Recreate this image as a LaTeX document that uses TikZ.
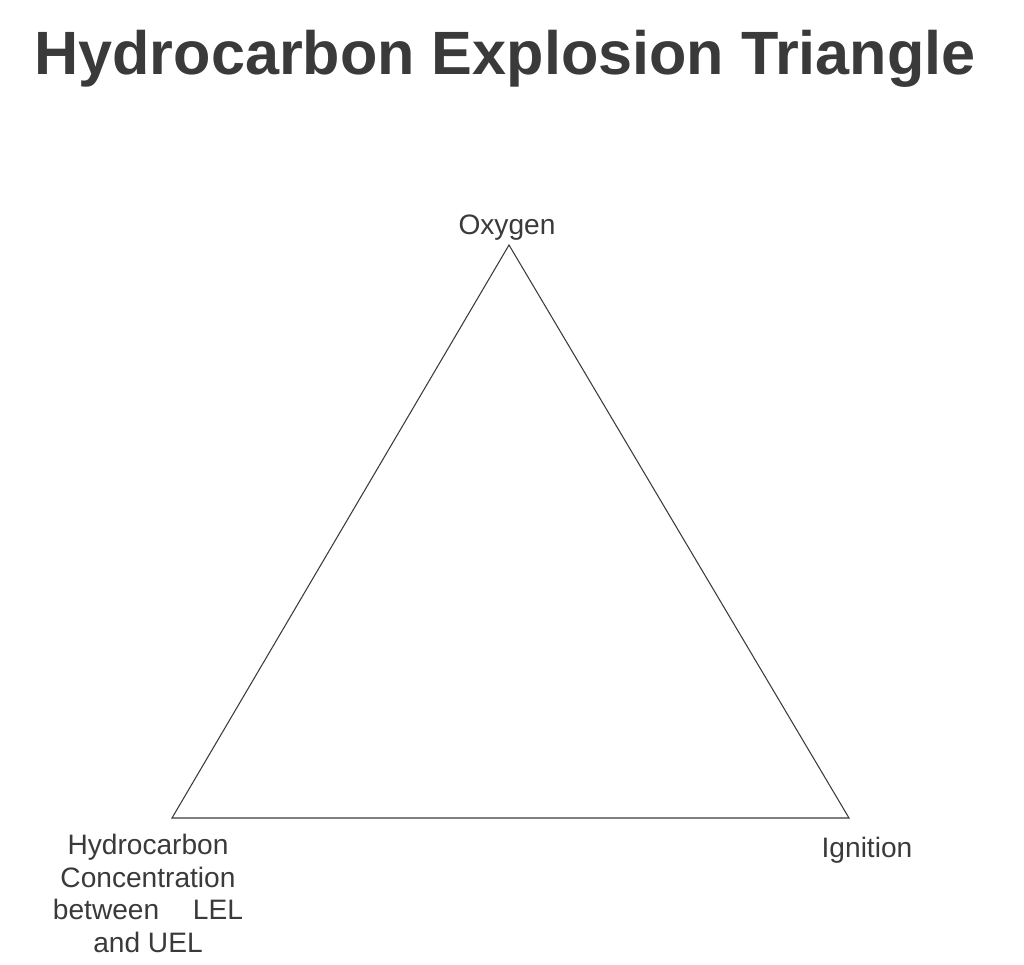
\documentclass[tikz,border=0pt]{standalone}
\usepackage{fontspec}
\setmainfont{Liberation Sans}
\usetikzlibrary{calc}
\definecolor{inkgray}{HTML}{3A3A3A}

\begin{document}
\begin{tikzpicture}[corner/.style={font=\fontsize{16}{18.5}\selectfont,text=inkgray,inner sep=0pt},
	side/.style={draw=inkgray,line width=0.6pt}]
	\useasboundingbox (0,0) rectangle (20.48,19.3);
	\draw (10.1,17.8) node (title) [anchor=base,text=inkgray,inner sep=0pt,font=\fontsize{34.8}{40}\bfseries] {Hydrocarbon Explosion Triangle};
	\draw (10.18,14.4) coordinate (O);
	\draw (3.44,2.94) coordinate (H);
	\draw (16.98,2.94) coordinate (I);
	\node (oxy) [corner,anchor=base] at (10.14,14.6) {Oxygen};
	\node (ign) [corner,anchor=base] at (17.34,2.14) {Ignition};
	\node (hc) [corner,anchor=north,align=center] at (2.96,2.62) {Hydrocarbon\\Concentration\\between\hspace{1.2em}LEL\\and UEL};
	\draw[side] (O) -- (H) -- (I) -- cycle;
\end{tikzpicture}
\end{document}
